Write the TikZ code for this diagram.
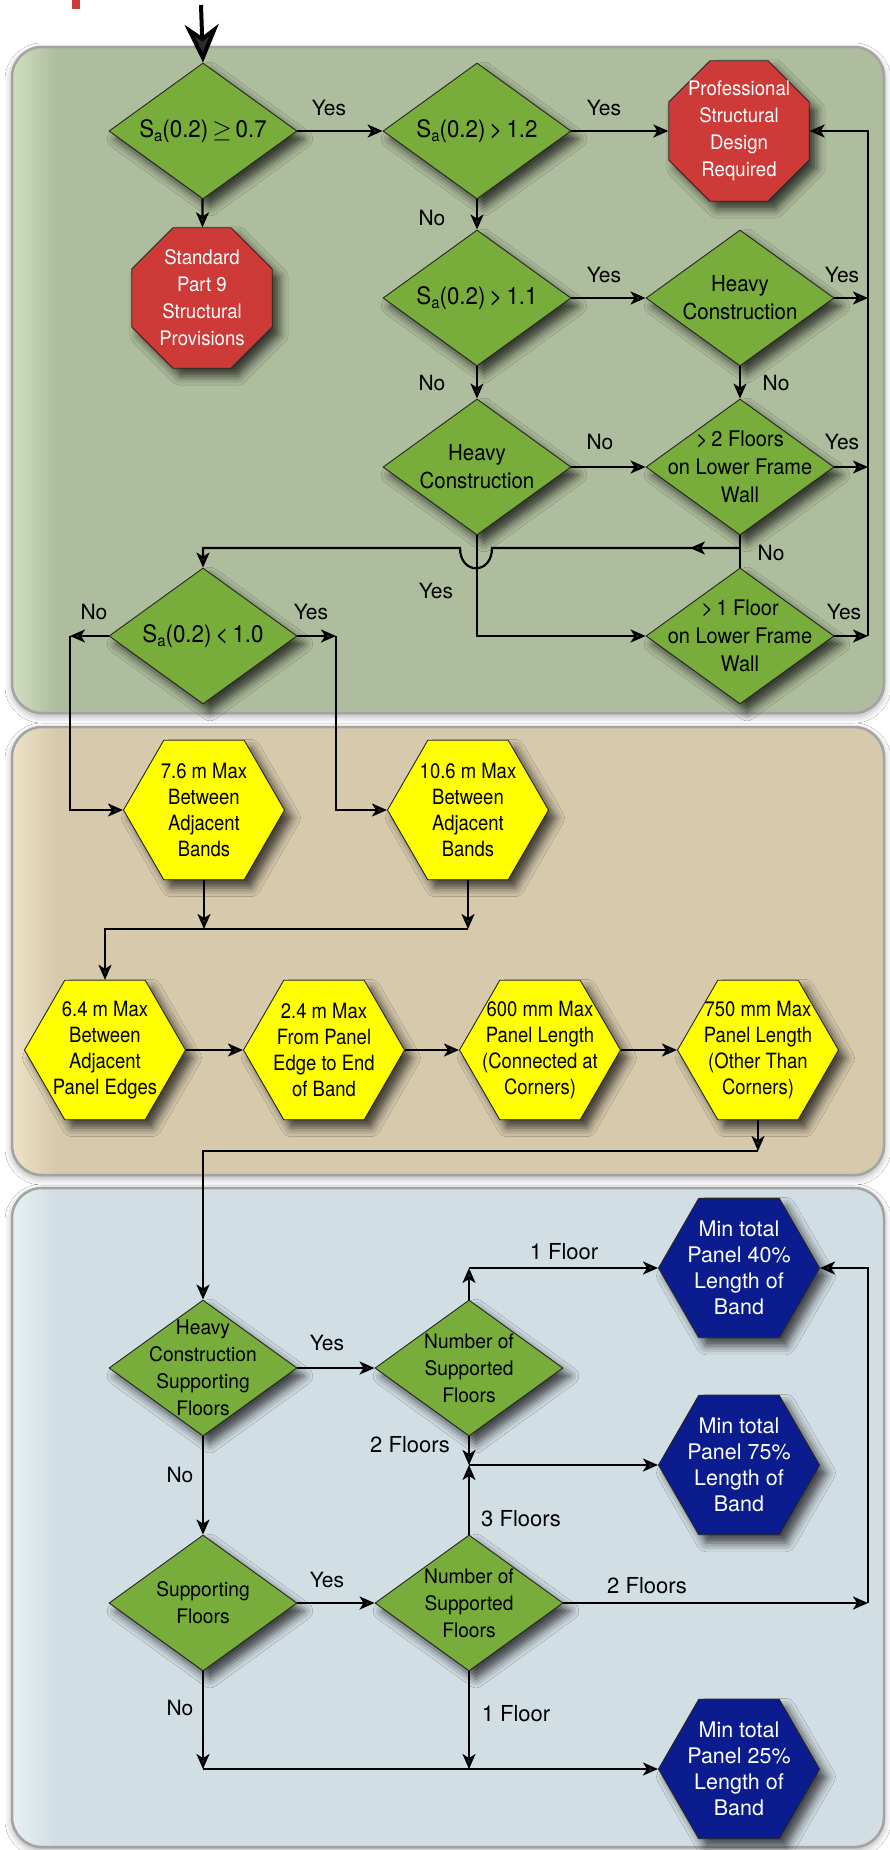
\documentclass[tikz,border=0pt]{standalone}
\usepackage{fontspec}
\setmainfont{TeX Gyre Heros}
\newfontfamily\narrowfont{TeX Gyre Heros}[FakeStretch=0.93]
\newfontfamily\hexfont{TeX Gyre Heros}[FakeStretch=0.88]
\newfontfamily\diafont{TeX Gyre Heros}[FakeStretch=0.96]
\usetikzlibrary{arrows.meta}
\usetikzlibrary{shapes.geometric}
\usetikzlibrary{shadows.blur}

\definecolor{diagreen}{HTML}{78AC3B}
\definecolor{stopred}{HTML}{CD3A37}
\definecolor{hexyellow}{HTML}{FFFF00}
\definecolor{hexblue}{HTML}{0A1C8E}
\definecolor{greenbg}{HTML}{AEBD9D}
\definecolor{greenlt}{HTML}{CFDFBF}
\definecolor{tanbg}{HTML}{D6C9AC}
\definecolor{tanlt}{HTML}{EEE2C7}
\definecolor{bluebg}{HTML}{D1DEE4}
\definecolor{bluelt}{HTML}{E7F0F4}
\definecolor{frame}{HTML}{A3A3A3}

\pgfdeclarehorizontalshading{greenpanel}{100bp}{color(0bp)=(greenlt); color(25bp)=(greenlt); color(27.5bp)=(greenbg); color(100bp)=(greenbg)}
\pgfdeclarehorizontalshading{tanpanel}{100bp}{color(0bp)=(tanlt); color(25bp)=(tanlt); color(27.5bp)=(tanbg); color(100bp)=(tanbg)}
\pgfdeclarehorizontalshading{bluepanel}{100bp}{color(0bp)=(bluelt); color(25bp)=(bluelt); color(27.5bp)=(bluebg); color(100bp)=(bluebg)}

\newcommand{\sasub}{S\raisebox{-4pt}{\fontsize{16}{16}\selectfont a}}

\tikzset{
  panel/.style={draw=frame, line width=2.5pt, rounded corners=30pt,
    blur shadow={shadow xshift=0pt, shadow yshift=-3pt, shadow opacity=35, shadow blur radius=7pt}},
  shade3d/.style={blur shadow={shadow xshift=7pt, shadow yshift=-8pt, shadow opacity=70, shadow blur radius=9pt}},
  decision/.style={diamond, draw=black!85, line width=0.9pt, fill=diagreen,
    minimum width=188pt, minimum height=136pt, inner sep=0pt, shade3d},
  stopsign/.style={regular polygon, regular polygon sides=8, minimum size=152pt,
    inner sep=0pt, draw=black!85, line width=0.9pt, fill=stopred, shade3d},
  yellowhex/.style={regular polygon, regular polygon sides=6, minimum size=161pt,
    inner sep=0pt, draw=black!85, line width=0.9pt, fill=hexyellow, shade3d},
  bluehex/.style={yellowhex, fill=hexblue},
  satext/.style={font=\narrowfont\fontsize{24}{28}\selectfont},
  dtext/.style={align=center, font=\diafont\fontsize{20}{27}\selectfont},
  bigtext/.style={align=center, font=\narrowfont\fontsize{21.5}{28}\selectfont},
  stoptext/.style={align=center, text=white, font=\narrowfont\fontsize{20}{27}\selectfont},
  hextext/.style={align=center, font=\hexfont\fontsize{21}{26}\selectfont},
  bluetext/.style={align=center, text=white, font=\fontsize{21.5}{26}\selectfont},
  lbl/.style={font=\fontsize{21}{24}\selectfont},
  link/.style={line width=2.2pt, -{Stealth[length=15pt,width=13pt,inset=4pt]}},
  line/.style={line width=2.2pt},
  bigarrow/.style={line width=4pt, -{Stealth[length=38pt,width=34pt,inset=12pt]}}
}

\begin{document}
\begin{tikzpicture}[x=1pt,y=-1pt]
\useasboundingbox (0,0) rectangle (890,1850);
\fill[white] (0,0) rectangle (890,1850);
\fill[stopred] (72,0) rectangle (80,9);

\shadedraw[panel, shading=greenpanel] (12,47) rectangle (884,713);
\shadedraw[panel, shading=tanpanel] (12,727) rectangle (884,1175);
\shadedraw[panel, shading=bluepanel] (12,1188) rectangle (884,1847);

% seismic checks
\node[decision] (sa07) at (203,131) {};
\node[satext] (sa07-t) at (sa07) {\sasub(0.2)\,$\geq$\,0.7};
\node[decision] (sa12) at (477,131) {};
\node[satext] (sa12-t) at (sa12) {\sasub(0.2)\,>\,1.2};
\node[stopsign] (prof) at (739,131) {};
\node[stoptext] (prof-t) at (prof) {Professional\\Structural\\Design\\Required};
\node[stopsign] (std) at (202,298) {};
\node[stoptext] (std-t) at (std) {Standard\\Part 9\\Structural\\Provisions};
\node[decision] (sa11) at (477,298) {};
\node[satext] (sa11-t) at (sa11) {\sasub(0.2)\,>\,1.1};
\node[decision] (heavya) at (740,298) {};
\node[bigtext, font=\narrowfont\fontsize{22}{28}\selectfont] (heavya-t) at (heavya) {Heavy\\Construction};
\node[decision] (heavyb) at (477,467) {};
\node[bigtext, font=\narrowfont\fontsize{22}{28}\selectfont] (heavyb-t) at (heavyb) {Heavy\\Construction};
\node[decision] (floors2) at (740,467) {};
\node[bigtext] (floors2-t) at (floors2) {>\,2 Floors\\on Lower Frame\\Wall};
\node[decision] (sa10) at (203,636) {};
\node[satext] (sa10-t) at (sa10) {\sasub(0.2)\,<\,1.0};
\node[decision] (floor1) at (740,636) {};
\node[bigtext] (floor1-t) at (floor1) {>\,1 Floor\\on Lower Frame\\Wall};

% band spacing
\node[yellowhex] (band76) at (204,810) {};
\node[hextext] (band76-t) at (band76) {7.6 m Max\\Between\\Adjacent\\Bands};
\node[yellowhex] (band106) at (468,810) {};
\node[hextext] (band106-t) at (band106) {10.6 m Max\\Between\\Adjacent\\Bands};
\node[yellowhex] (edge64) at (105,1050) {};
\node[hextext] (edge64-t) at (edge64) {6.4 m Max\\Between\\Adjacent\\Panel Edges};
\node[yellowhex] (edge24) at (324,1050) {};
\node[hextext] (edge24-t) at (edge24) {2.4 m Max\\From Panel\\Edge to End\\of Band};
\node[yellowhex] (len600) at (540,1050) {};
\node[hextext] (len600-t) at (len600) {600 mm Max\\Panel Length\\(Connected at\\Corners)};
\node[yellowhex] (len750) at (758,1050) {};
\node[hextext] (len750-t) at (len750) {750 mm Max\\Panel Length\\(Other Than\\Corners)};

% supported floors
\node[decision] (hcsf) at (203,1368) {};
\node[dtext] (hcsf-t) at (hcsf) {Heavy\\Construction\\Supporting\\Floors};
\node[decision] (nsfa) at (469,1368) {};
\node[dtext] (nsfa-t) at (nsfa) {Number of\\Supported\\Floors};
\node[bluehex] (pct40) at (739,1268) {};
\node[bluetext] (pct40-t) at (pct40) {Min total\\Panel 40\%\\Length of\\Band};
\node[bluehex] (pct75) at (739,1465) {};
\node[bluetext] (pct75-t) at (pct75) {Min total\\Panel 75\%\\Length of\\Band};
\node[decision] (supf) at (203,1603) {};
\node[dtext] (supf-t) at (supf) {Supporting\\Floors};
\node[decision] (nsfb) at (469,1603) {};
\node[dtext] (nsfb-t) at (nsfb) {Number of\\Supported\\Floors};
\node[bluehex] (pct25) at (739,1769) {};
\node[bluetext] (pct25-t) at (pct25) {Min total\\Panel 25\%\\Length of\\Band};

\coordinate (entry) at (201,5);
\coordinate (rline) at (868,0);
\coordinate (lcol) at (70,0);
\coordinate (mcol) at (336,0);
\coordinate (jn) at (740,548);
\coordinate (jb) at (0,929);
\coordinate (jc) at (0,1151);

\draw[bigarrow] (entry) -- (sa07.north);
\draw[link] (sa07) -- (sa12);
\draw[link] (sa07) -- (std);
\draw[link] (sa12) -- (prof);
\draw[link] (sa12) -- (sa11);
\draw[link] (sa11) -- (heavya);
\draw[link] (sa11) -- (heavyb);
\draw[link] (heavya) -- (floors2);
\draw[link] (heavyb) -- (floors2);
\draw[link] (heavya.east) -- (heavya.east -| rline);
\draw[link] (floors2.east) -- (floors2.east -| rline);
\draw[link] (floor1.east) -- (floor1.east -| rline);
\draw[link] (floor1.east -| rline) |- (prof.east);
\draw[line] (floors2.south) -- (floor1.north);
\draw[link] (jn) -- (492,548) .. controls (492,575) and (460,575) .. (460,548) -| (sa10.north);
\draw[link] (jn) -- ++(-50,0);
\draw[link] (heavyb.south) |- (floor1.west);
\draw[link] (sa10.west) -- (sa10.west -| lcol);
\draw[link] (sa10.west -| lcol) |- (band76.west);
\draw[link] (sa10.east) -- (sa10.east -| mcol);
\draw[link] (sa10.east -| mcol) |- (band106.west);

\draw[link] (band76.south) -- (band76.south |- jb);
\draw[link] (band106.south) -- (band106.south |- jb);
\draw[link] (band106.south |- jb) -| (edge64.north);
\draw[link] (edge64) -- (edge24);
\draw[link] (edge24) -- (len600);
\draw[link] (len600) -- (len750);
\draw[link] (len750.south) -- (len750.south |- jc);
\draw[link] (len750.south |- jc) -| (hcsf.north);

\draw[link] (hcsf) -- (nsfa);
\draw[link] (nsfa.north) -- (nsfa.north |- pct40);
\draw[link] (nsfa.north |- pct40) -- (pct40.west);
\draw[link] (nsfa.south) -- (nsfa.south |- pct75);
\draw[link] (nsfa.south |- pct75) -- (pct75.west);
\draw[link] (nsfb.north) -- (nsfb.north |- pct75);
\draw[link] (hcsf) -- (supf);
\draw[link] (supf) -- (nsfb);
\draw[link] (nsfb.east) -- (nsfb.east -| rline);
\draw[link] (nsfb.east -| rline) |- (pct40.east);
\draw[link] (supf.south) -- (supf.south |- pct25);
\draw[link] (supf.south |- pct25) -- (pct25.west);
\draw[link] (nsfb.south) -- (nsfb.south |- pct25);

\foreach \x/\y/\t [count=\i] in {329/108/Yes, 604/108/Yes, 432/218/No, 604/275/Yes,
    842/275/Yes, 432/383/No, 776/383/No, 600/442/No, 842/442/Yes, 771/553/No,
    436/591/Yes, 94/612/No, 311/612/Yes, 844/612/Yes, 327/1343/Yes,
    327/1580/Yes, 180/1475/No, 180/1708/No}
  \node[lbl] (lab\i) at (\x,\y) {\t};
\foreach \x/\y/\t [count=\i] in {564/1252/1 Floor, 410/1445/2 Floors, 521/1519/3 Floors,
    647/1586/2 Floors, 516/1714/1 Floor}
  \node[lbl, font=\fontsize{22}{24}\selectfont] (flr\i) at (\x,\y) {\t};
\end{tikzpicture}
\end{document}
